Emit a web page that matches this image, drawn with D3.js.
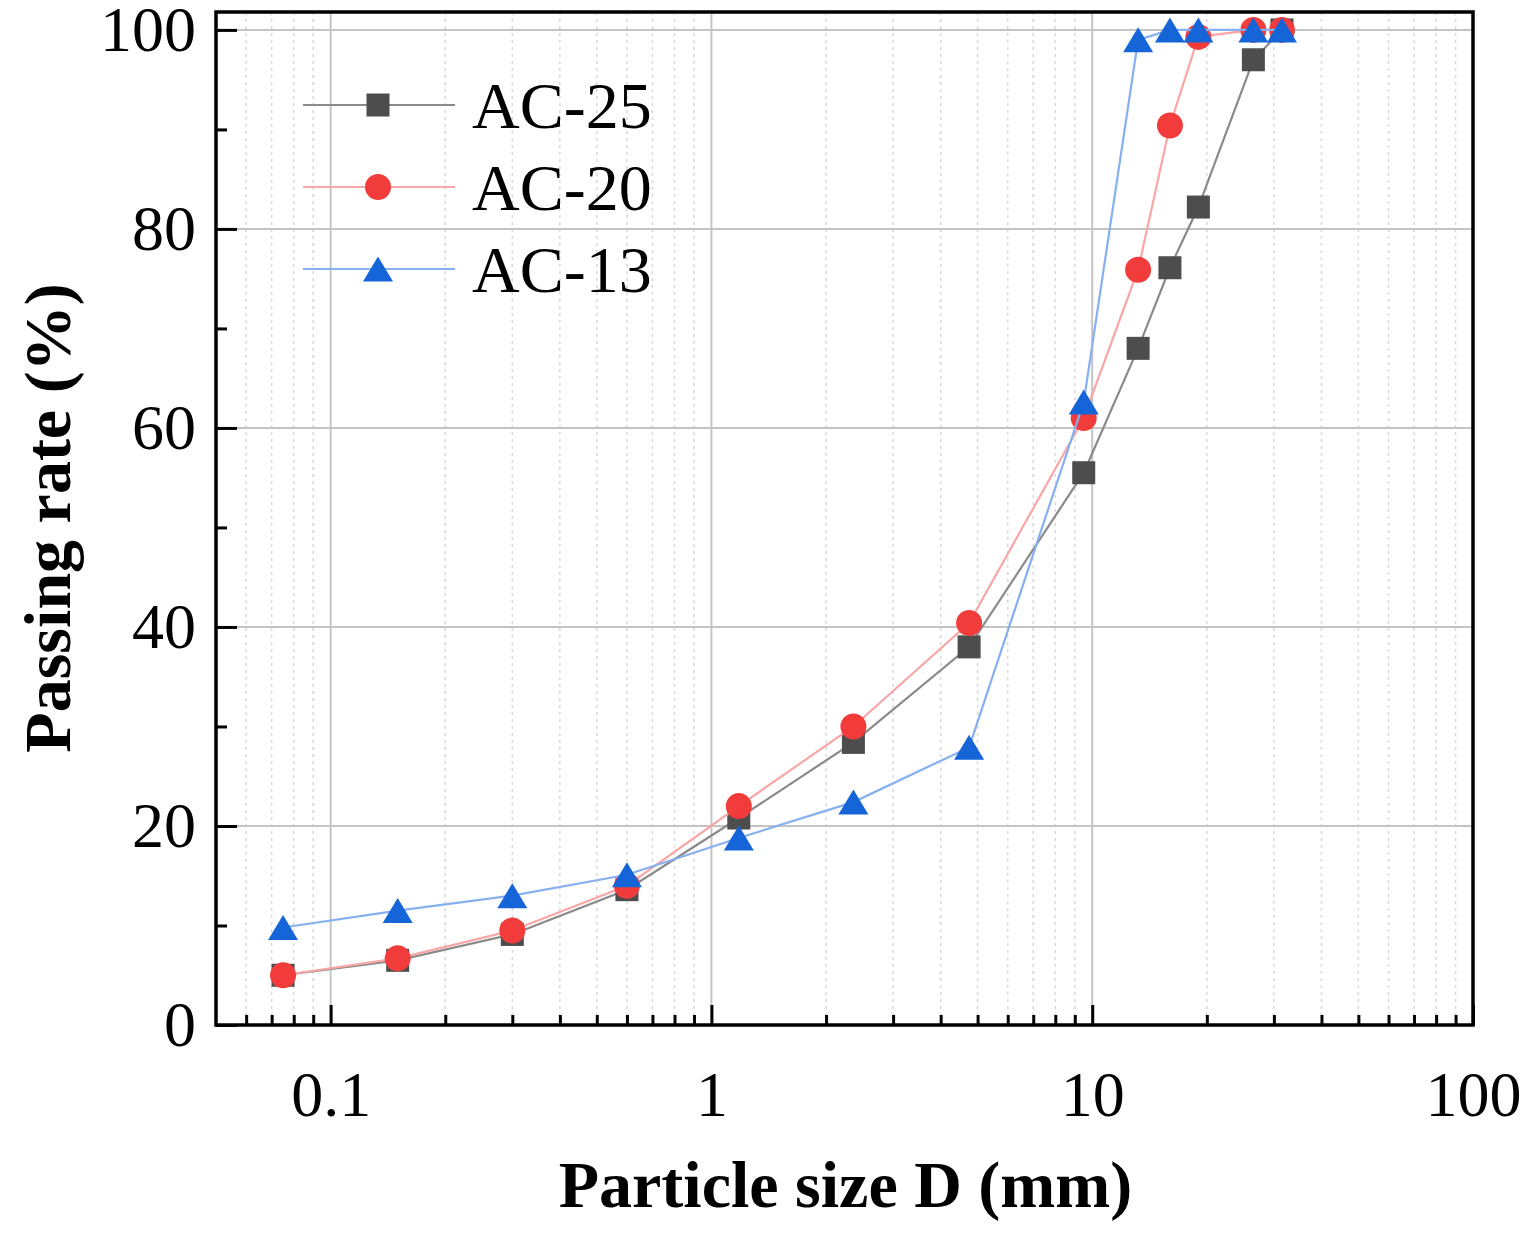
<!DOCTYPE html>
<html>
<head>
<meta charset="utf-8">
<script src="https://cdn.jsdelivr.net/npm/d3@7"></script>
<style>
  body { margin: 0; background: #fff; }
  text { font-family: "Liberation Serif", "Times New Roman", serif; }
</style>
</head>
<body>
<script>
// sieve sizes (mm) and passing rates (%)
var sieveSizes = [0.075, 0.15, 0.3, 0.6, 1.18, 2.36, 4.75, 9.5, 13.2, 16, 19, 26.5, 31.5];
var ac25 = [5.0, 6.5, 9.1, 13.6, 20.8, 28.4, 38.0, 55.5, 68.0, 76.1, 82.2, 97.0, 100];
var ac20 = [5.0, 6.7, 9.5, 14.0, 22.0, 30.0, 40.4, 61.0, 75.9, 90.4, 99.3, 100, 100];
var ac13 = [9.8, 11.5, 13.0, 15.1, 18.8, 22.4, 27.9, 62.6, 99.0, 100, 100, 100, 100];
var seriesNames = ["AC-25", "AC-20", "AC-13"];
var xTickValues = [0.1, 1, 10, 100];
var yTickValues = [0, 20, 40, 60, 80, 100];

const w = 1532;
const h = 1233;
const plotLeft = 216, plotRight = 1473, plotTop = 12, plotBottom = 1025;

var styles = [
    { line: "#8a8a8a", fill: "#4d4d4d", shape: "square" },
    { line: "#f9a6a6", fill: "#f23c3c", shape: "circle" },
    { line: "#86b0f0", fill: "#1565d8", shape: "triangle" }
];
var allSeries = [ac25, ac20, ac13];

const svg = d3.select("body")
    .append("svg")
    .attr("width", w)
    .attr("height", h);

const x = d3.scaleLog().domain([0.05, 100]).range([plotLeft, plotRight]);
const y = d3.scaleLinear().domain([0, 101.8]).range([plotBottom, plotTop]);

// minor x values for the log axis
var xMinor = [];
for (var e = -2; e <= 1; e++) {
    for (var m = 2; m <= 9; m++) {
        var v = m * Math.pow(10, e);
        if (v > 0.05 && v < 100) xMinor.push(+v.toPrecision(3));
    }
}
var yMinor = [10, 30, 50, 70, 90];

// dotted minor grid
svg.append("g").selectAll("line")
    .data(xMinor)
    .enter()
    .append("line")
    .attr("x1", d => x(d)).attr("x2", d => x(d))
    .attr("y1", plotTop).attr("y2", plotBottom)
    .style("stroke", "#d8d8d8")
    .style("stroke-width", 1.5)
    .style("stroke-dasharray", "3,4");

// major grid
svg.append("g").selectAll("line")
    .data(xTickValues.filter(d => d < 100))
    .enter()
    .append("line")
    .attr("x1", d => x(d)).attr("x2", d => x(d))
    .attr("y1", plotTop).attr("y2", plotBottom)
    .style("stroke", "#c4c4c4")
    .style("stroke-width", 2);

svg.append("g").selectAll("line")
    .data(yTickValues.filter(d => d > 0))
    .enter()
    .append("line")
    .attr("x1", plotLeft).attr("x2", plotRight)
    .attr("y1", d => y(d)).attr("y2", d => y(d))
    .style("stroke", "#c4c4c4")
    .style("stroke-width", 2);

// axes with inward ticks
const xAxis = svg.append("g")
    .attr("transform", "translate(0," + plotBottom + ")")
    .call(d3.axisBottom(x).tickValues(xTickValues).tickSize(-20).tickFormat(d => d).tickPadding(46));
xAxis.select(".domain").remove();
xAxis.selectAll(".tick line").style("stroke", "#000").style("stroke-width", 3);
xAxis.selectAll(".tick text")
    .style("font-family", "Liberation Serif")
    .style("font-size", "64px")
    .attr("fill", "#000");

svg.append("g")
    .attr("transform", "translate(0," + plotBottom + ")")
    .call(d3.axisBottom(x).tickValues(xMinor).tickSize(-10).tickFormat(""))
    .call(g => g.select(".domain").remove())
    .selectAll(".tick line").style("stroke", "#000").style("stroke-width", 3);

const yAxis = svg.append("g")
    .attr("transform", "translate(" + plotLeft + ",0)")
    .call(d3.axisLeft(y).tickValues(yTickValues).tickSize(-21).tickPadding(20));
yAxis.select(".domain").remove();
yAxis.selectAll(".tick line").style("stroke", "#000").style("stroke-width", 3);
yAxis.selectAll(".tick text")
    .style("font-family", "Liberation Serif")
    .style("font-size", "64px")
    .attr("fill", "#000");

svg.append("g")
    .attr("transform", "translate(" + plotLeft + ",0)")
    .call(d3.axisLeft(y).tickValues(yMinor).tickSize(-11).tickFormat(""))
    .call(g => g.select(".domain").remove())
    .selectAll(".tick line").style("stroke", "#000").style("stroke-width", 3);

// frame
svg.append("rect")
    .attr("x", plotLeft).attr("y", plotTop)
    .attr("width", plotRight - plotLeft).attr("height", plotBottom - plotTop)
    .style("fill", "none")
    .style("stroke", "#000")
    .style("stroke-width", 3.5);

// marker path centered on 0,0
function markerPath(shape) {
    if (shape == "square") return "M-11.5,-11.5H11.5V11.5H-11.5Z";
    if (shape == "circle") return d3.symbol(d3.symbolCircle, Math.PI * 13 * 13)();
    return "M0,-12.5L15,12.5H-15Z";
}

const line = d3.line()
    .x(d => x(d[0]))
    .y(d => y(d[1]));

allSeries.forEach((vals, si) => {
    var pts = sieveSizes.map((s, i) => [s, vals[i]]);
    var g = svg.append("g");
    g.append("path")
        .datum(pts)
        .attr("d", line)
        .style("fill", "none")
        .style("stroke", styles[si].line)
        .style("stroke-width", 2.2);
    g.selectAll("path.mk")
        .data(pts)
        .enter()
        .append("path")
        .attr("class", "mk")
        .attr("d", markerPath(styles[si].shape))
        .attr("transform", d => "translate(" + x(d[0]) + "," + y(d[1]) + ")")
        .style("fill", styles[si].fill);
});

// legend
var legend = svg.append("g").selectAll("g")
    .data(seriesNames)
    .enter()
    .append("g")
    .attr("transform", (d, i) => "translate(0," + (105 + i * 82) + ")");
legend.append("line")
    .attr("x1", 303).attr("x2", 455)
    .attr("y1", 0).attr("y2", 0)
    .style("stroke", (d, i) => styles[i].line)
    .style("stroke-width", 2.2);
legend.append("path")
    .attr("d", (d, i) => markerPath(styles[i].shape))
    .attr("transform", "translate(378,0)")
    .style("fill", (d, i) => styles[i].fill);
legend.append("text")
    .attr("x", 472)
    .attr("y", 23)
    .style("font-size", "66px")
    .text(d => d);

// axis titles
svg.append("text")
    .attr("x", (plotLeft + plotRight) / 2 + 1)
    .attr("y", 1207)
    .attr("text-anchor", "middle")
    .style("font-size", "66px")
    .style("font-weight", "bold")
    .text("Particle size D (mm)");

svg.append("text")
    .attr("transform", "translate(70,518) rotate(-90)")
    .attr("text-anchor", "middle")
    .style("font-size", "66px")
    .style("font-weight", "bold")
    .text("Passing rate (%)");
</script>
</body>
</html>
